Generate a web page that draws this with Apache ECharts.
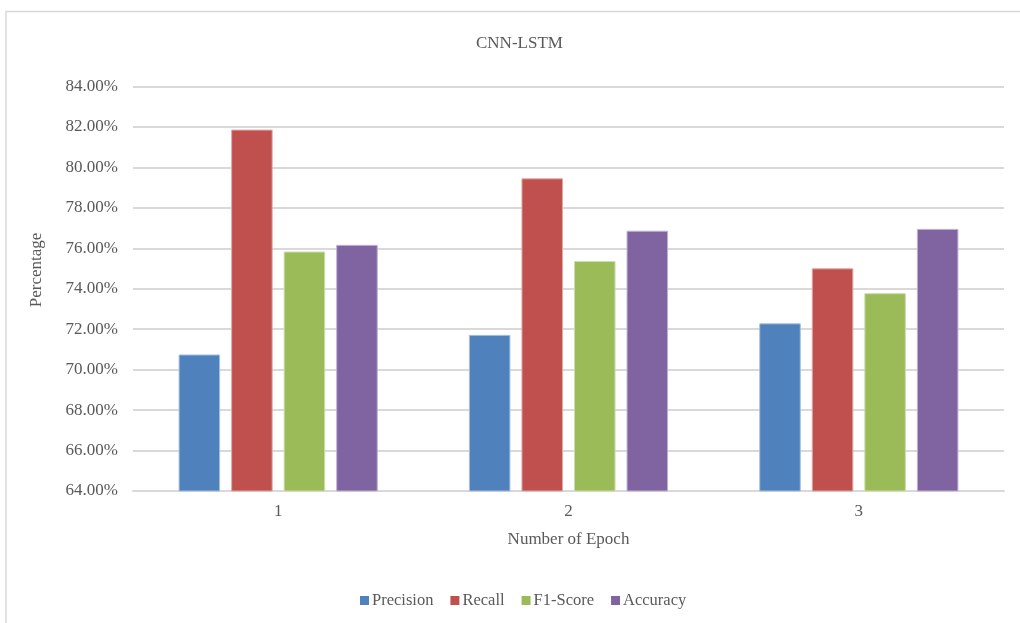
<!DOCTYPE html>
<html>
<head>
<meta charset="utf-8">
<title>CNN-LSTM</title>
<script src="https://cdn.jsdelivr.net/npm/echarts@6/dist/echarts.min.js"></script>
<style>
  html, body { margin: 0; padding: 0; background: #ffffff; }
  #chart { width: 1020px; height: 623px; }
</style>
</head>
<body>
<div id="chart"></div>
<script>
// Epochs on the category axis
const epochs = ['1', '2', '3'];

// Metric values per epoch, in percent
const precision = [70.75, 71.72, 72.29];
const recall    = [81.87, 79.46, 75.01];
const f1Score   = [75.84, 75.37, 73.78];
const accuracy  = [76.17, 76.87, 76.96];

const seriesNames = ['Precision', 'Recall', 'F1-Score', 'Accuracy'];
const seriesData = [precision, recall, f1Score, accuracy];
const seriesColors = ['#4F81BD', '#C0504D', '#9BBB59', '#8064A2'];
const seriesBorders = ['#a7c0de', '#dfa8a6', '#cddcac', '#bfb1d0'];

const FONT = '"Liberation Serif", "DejaVu Serif", serif';
const TEXT = '#595959';
const GRID = '#d9d9d9';

const chart = echarts.init(document.getElementById('chart'));

chart.setOption({
  animation: false,
  backgroundColor: '#ffffff',
  textStyle: { fontFamily: FONT, color: TEXT },
  graphic: [
    {
      // frame around the chart area
      type: 'rect',
      shape: { x: 6, y: 11.5, width: 1100, height: 700 },
      style: { fill: 'none', stroke: GRID, lineWidth: 1.5 },
      silent: true
    },
    {
      // vertical axis title
      type: 'text',
      x: 37,
      y: 270,
      rotation: Math.PI / 2,
      style: {
        text: 'Percentage',
        font: '17px ' + FONT,
        fill: TEXT,
        align: 'center',
        verticalAlign: 'middle'
      },
      silent: true
    }
  ],
  title: {
    text: 'CNN-LSTM',
    left: 476,
    top: 35,
    padding: 0,
    textStyle: { fontFamily: FONT, fontSize: 17, fontWeight: 'normal', color: TEXT }
  },
  legend: {
    data: seriesNames,
    left: 360,
    top: 592,
    padding: 0,
    itemWidth: 9,
    itemHeight: 9,
    itemGap: 17,
    icon: 'rect',
    itemStyle: { borderWidth: 0 },
    textStyle: { fontFamily: FONT, fontSize: 16.5, color: TEXT, padding: [0, 0, 0, -2] }
  },
  grid: { left: 133, right: 16, top: 86.5, bottom: 132, containLabel: false },
  xAxis: {
    type: 'category',
    data: epochs,
    name: 'Number of Epoch',
    nameLocation: 'middle',
    nameGap: 40,
    nameTextStyle: { fontFamily: FONT, fontSize: 17, color: TEXT },
    axisLine: { lineStyle: { color: GRID, width: 2 } },
    axisTick: { show: false },
    axisLabel: { fontFamily: FONT, fontSize: 17, color: TEXT, margin: 12 }
  },
  yAxis: {
    type: 'value',
    min: 64,
    max: 84,
    interval: 2,
    axisLine: { show: false },
    axisTick: { show: false },
    axisLabel: {
      fontFamily: FONT, fontSize: 17, color: TEXT, margin: 15,
      formatter: v => v.toFixed(2) + '%'
    },
    splitLine: { lineStyle: { color: GRID, width: 2 } }
  },
  series: seriesNames.map((name, i) => ({
    name: name,
    type: 'bar',
    data: seriesData[i],
    barGap: '26.5%',
    barCategoryGap: '31.4%',
    itemStyle: { color: seriesColors[i], borderColor: seriesBorders[i], borderWidth: 1 }
  }))
});
</script>
</body>
</html>
